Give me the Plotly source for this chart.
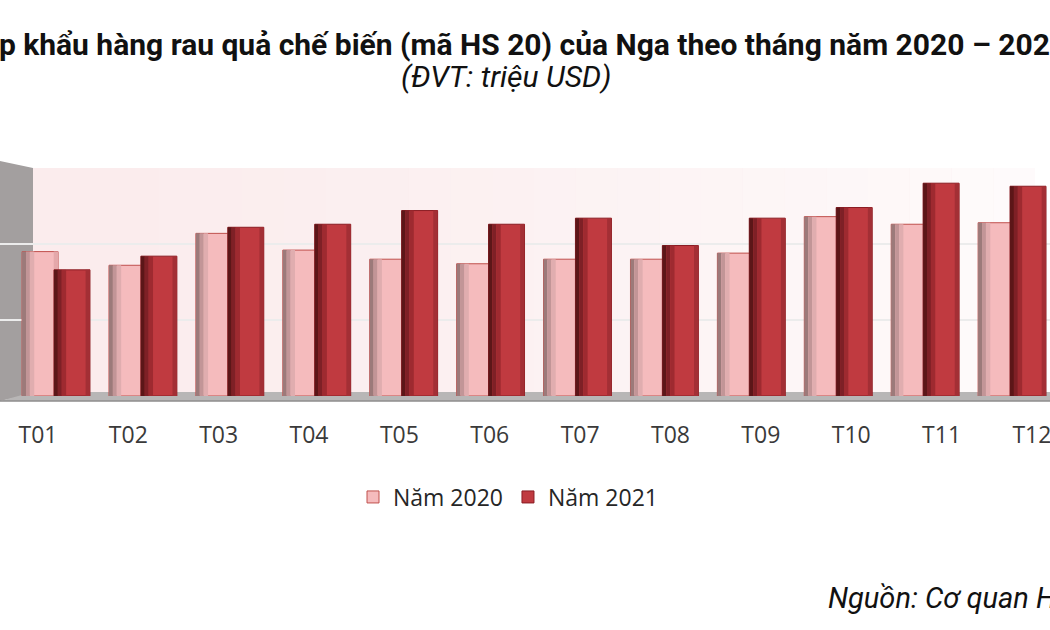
import plotly.graph_objects as go

# ---- data ----
months = ["T01", "T02", "T03", "T04", "T05", "T06", "T07", "T08", "T09", "T10", "T11", "T12"]
series_names = ["Năm 2020", "Năm 2021"]
values_2020 = [95, 86, 107, 96, 90, 87, 90, 90, 94, 118, 113, 114]
values_2021 = [83, 92, 111, 113, 122, 113, 117, 99, 117, 124, 140, 138]
y_ticks = [0, 50, 100, 150]

title_text = "Nhập khẩu hàng rau quả chế biến (mã HS 20) của Nga theo tháng năm 2020 – 2021"
subtitle_text = "(ĐVT: triệu USD)"
source_text = "Nguồn: Cơ quan Hải quan Nga"

W, H = 1050, 630


def px(x):
    return x / W


def py(y):
    return 1 - y / H


fig = go.Figure()

BAR_W = 0.414
series = [
    # values, offset, base colour, outline, shading strips (relative offset, width, colour)
    (values_2020, -0.39, "#f5bbbd", "#c0504d",
     [(0.0, 0.045, "#9c7a7a"), (0.045, 0.045, "#c29597"), (0.09, 0.05, "#e0adaf"),
      (BAR_W - 0.05, 0.05, "#e4a8aa")]),
    (values_2021, -0.023, "#c03a40", "#8a1c22",
     [(0.0, 0.045, "#5c1618"), (0.045, 0.045, "#7e2026"), (0.09, 0.05, "#9e2a30"),
      (BAR_W - 0.05, 0.05, "#a32f35")]),
]

for name, (vals, off, col, edge, strips) in zip(series_names, series):
    fig.add_trace(go.Bar(
        x=months, y=vals, name=name, width=BAR_W, offset=off,
        marker=dict(color=col, line=dict(color=edge, width=1)),
        legendgroup=name,
    ))
    for rel, w, c in strips:
        fig.add_trace(go.Bar(
            x=months, y=vals, width=w, offset=off + rel,
            marker=dict(color=c, line=dict(width=0)),
            showlegend=False, hoverinfo="skip", legendgroup=name,
        ))

# invisible helper trace so the label axis (x2) renders its month labels
fig.add_trace(go.Scatter(
    x=months, y=values_2020, xaxis="x2", yaxis="y", mode="markers",
    marker=dict(opacity=0), showlegend=False, hoverinfo="skip",
))

shapes = []
# back wall gradient (pink -> white to the right)
x0, x1 = 33, 1035
n = 24
shapes.append(dict(type="rect", xref="paper", yref="paper", x0=px(x0), x1=px(x1),
                   y0=py(396), y1=py(168), fillcolor="#fbeced", line=dict(width=0), layer="below"))
for i in range(n):
    a = x0 + (x1 - x0) * i / n
    b = x0 + (x1 - x0) * (i + 1) / n
    shapes.append(dict(type="rect", xref="paper", yref="paper", x0=px(a), x1=px(b),
                       y0=py(396), y1=py(168), fillcolor="white",
                       opacity=0.75 * (i / (n - 1)) ** 1.3, line=dict(width=0), layer="below"))
# left wall
shapes.append(dict(type="path", xref="paper", yref="paper",
                   path=f"M {px(0)},{py(161)} L {px(33)},{py(168)} L {px(33)},{py(394)} L {px(0)},{py(401)} Z",
                   fillcolor="#a39f9f", line=dict(width=0), layer="below"))
# floor
shapes.append(dict(type="path", xref="paper", yref="paper",
                   path=f"M {px(0)},{py(401)} L {px(33)},{py(392)} L {px(1050)},{py(392)} L {px(1050)},{py(401)} Z",
                   fillcolor="#b8b6b6", line=dict(width=0), layer="below"))
shapes.append(dict(type="line", xref="paper", yref="paper", x0=px(0), x1=px(1050),
                   y0=py(401), y1=py(401), line=dict(color="#8e8c8c", width=1.5), layer="below"))

fig.update_layout(
    width=W, height=H, autosize=False,
    margin=dict(l=0, r=0, t=0, b=0),
    paper_bgcolor="white", plot_bgcolor="rgba(0,0,0,0)",
    barmode="overlay",
    showlegend=True,
    title=dict(text=f"<b>{title_text}</b>", x=px(506), xanchor="center", xref="paper",
               y=py(44), yanchor="middle", yref="paper",
               font=dict(family="Roboto, sans-serif", size=30, color="#111111")),
    xaxis=dict(domain=[0, 1], range=[-0.644, 11.437], showticklabels=False, showgrid=False,
               zeroline=False, showline=False, ticks="", automargin=False),
    xaxis2=dict(domain=[0, 1], overlaying="x", anchor="y", side="bottom", type="category",
                categoryorder="array", categoryarray=months,
                range=[-0.42, 11.2],
                showgrid=False, zeroline=False, showline=False, ticks="", automargin=False,
                ticklabelstandoff=23,
                tickfont=dict(family="Open Sans, Lato, sans-serif", size=23, color="#3a3a3a")),
    yaxis=dict(domain=[py(396), py(168)], range=[0, 150], tickvals=y_ticks,
               showticklabels=False, showgrid=True, gridcolor="#ececec", gridwidth=1.5,
               zeroline=False, showline=False, automargin=False),
    legend=dict(orientation="h", x=px(508), xanchor="center", y=py(497), yanchor="middle",
                font=dict(family="Open Sans, Lato, sans-serif", size=23, color="#262626"),
                bgcolor="rgba(0,0,0,0)", itemclick=False, traceorder="normal"),
    shapes=shapes,
    annotations=[
        dict(text=f"<i>{subtitle_text}</i>", xref="paper", yref="paper", x=px(506), y=py(76),
             xanchor="center", yanchor="middle", showarrow=False,
             font=dict(family="Roboto, sans-serif", size=30, color="#111111")),
        dict(text=f"<i>{source_text}</i>", xref="paper", yref="paper", x=px(826), y=py(598),
             xanchor="left", yanchor="middle", showarrow=False,
             font=dict(family="Roboto, sans-serif", size=29, color="#111111")),
    ],
)

fig.write_html("out.html", config={"displayModeBar": False},
               post_script="document.body.style.margin='0';document.body.style.overflow='hidden';")
